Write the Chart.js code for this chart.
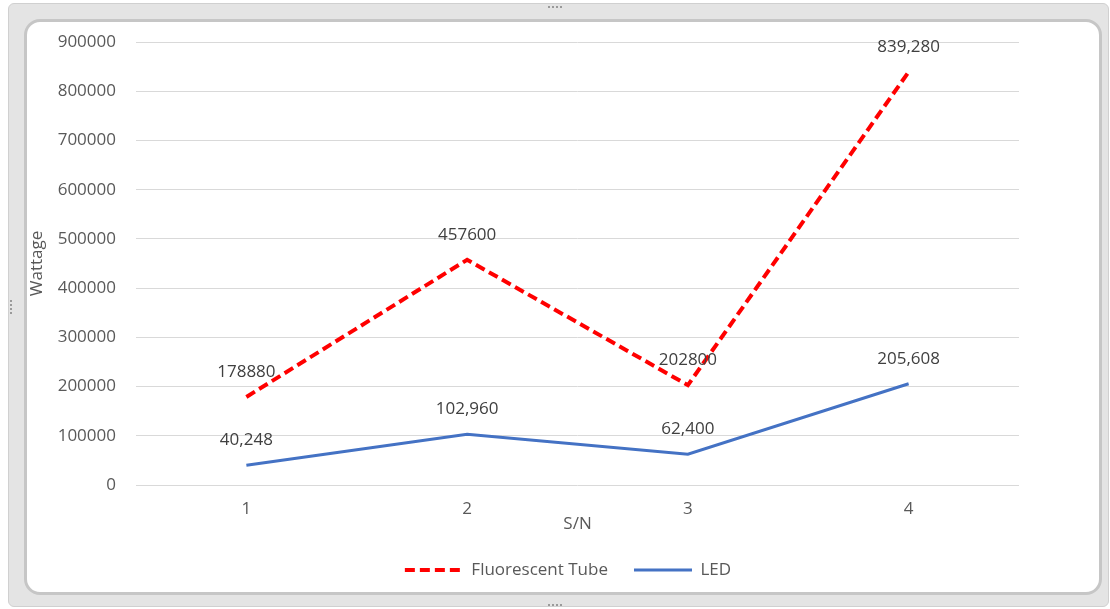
<!DOCTYPE html>
<html>
<head>
<meta charset="utf-8">
<script src="https://cdn.jsdelivr.net/npm/chart.js@4.4.1/dist/chart.umd.min.js"></script>
<style>
  html, body { margin: 0; padding: 0; background: #ffffff; }
  #wrap { position: relative; width: 1110px; height: 609px; overflow: hidden; }
  .frame-outer {
    position: absolute; left: 8px; top: 3px; width: 1101px; height: 604px;
    background: #e4e4e4; border: 1px solid #d0d0d0; border-radius: 6px; box-sizing: border-box;
  }
  .frame-inner {
    position: absolute; left: 24px; top: 19px; width: 1078px; height: 576px;
    background: #ffffff; border: 3px solid #c6c6c6; border-radius: 16px; box-sizing: border-box;
  }
  .grip { position: absolute; width: 14px; height: 2px;
    background: repeating-linear-gradient(90deg, #9a9a9a 0 2px, transparent 2px 4px); }
  canvas { position: absolute; left: 0; top: 0; }
</style>
</head>
<body>
<div id="wrap">
  <div class="frame-outer"></div>
  <div class="frame-inner"></div>
  <div class="grip" style="left:548px; top:6px;"></div>
  <div class="grip" style="left:548px; top:604px;"></div>
  <div class="grip" style="left:10px; top:300px; width:2px; height:14px;
       background: repeating-linear-gradient(180deg, #9a9a9a 0 2px, transparent 2px 4px);"></div>
  <canvas id="chart" width="1110" height="609"></canvas>
</div>
<script>
// Serial numbers along the category axis
const serials = ['1', '2', '3', '4'];

// Power consumption per item (W)
const fluorescentTube = [178880, 457600, 202800, 839280];
const led = [40248, 102960, 62400, 205608];

// Whether each value label is printed with thousands separators
const fluorescentGrouped = [false, false, false, true];
const ledGrouped = [true, true, true, true];

// Value-axis ticks
const yTicks = [0, 100000, 200000, 300000, 400000, 500000, 600000, 700000, 800000, 900000];

const FONT = '"Open Sans", "Liberation Sans", sans-serif';
const FONT_SIZE = 17;
const LEGEND_HEIGHT = 50;
const LEGEND_CENTER = { x: 568, y: 570 };

function formatValue(v, grouped) {
  return grouped ? v.toLocaleString('en-US') : String(v);
}

// Draws each point's value centred above it
const valueLabels = {
  id: 'valueLabels',
  afterDatasetsDraw(chart) {
    const ctx = chart.ctx;
    ctx.save();
    ctx.font = FONT_SIZE + 'px ' + FONT;
    ctx.fillStyle = '#404040';
    ctx.textAlign = 'center';
    ctx.textBaseline = 'middle';
    chart.data.datasets.forEach((ds, i) => {
      const meta = chart.getDatasetMeta(i);
      meta.data.forEach((pt, j) => {
        ctx.fillText(formatValue(ds.data[j], ds.grouped[j]), pt.x, pt.y - 25);
      });
    });
    ctx.restore();
  }
};

// Fixed legend height, and legend centred below the plot
const legendPlacement = {
  id: 'legendPlacement',
  beforeLayout(chart) {
    const lg = chart.legend;
    if (lg && !lg._fixedFit) {
      const fit = lg.fit;
      lg.fit = function () { fit.call(this); this.height = LEGEND_HEIGHT; };
      lg._fixedFit = true;
    }
  },
  afterLayout(chart) {
    const lg = chart.legend;
    const pad = lg.options.labels.padding;
    const w = lg.right - lg.left;
    lg.left = LEGEND_CENTER.x - w / 2;
    lg.right = lg.left + w;
    lg.top = LEGEND_CENTER.y - FONT_SIZE / 2 - pad;
    lg.bottom = lg.top + LEGEND_HEIGHT;
  }
};

new Chart(document.getElementById('chart'), {
  type: 'line',
  data: {
    labels: serials,
    datasets: [
      {
        label: 'Fluorescent Tube',
        data: fluorescentTube,
        grouped: fluorescentGrouped,
        borderColor: '#ff0000',
        backgroundColor: '#ff0000',
        borderWidth: 4,
        borderDash: [10, 5],
        pointRadius: 0,
        tension: 0
      },
      {
        label: 'LED',
        data: led,
        grouped: ledGrouped,
        borderColor: '#4472c4',
        backgroundColor: '#4472c4',
        borderWidth: 3,
        pointRadius: 0,
        tension: 0
      }
    ]
  },
  options: {
    responsive: false,
    animation: false,
    layout: { padding: { left: 20, right: 91, top: 42, bottom: 21 } },
    plugins: {
      tooltip: { enabled: false },
      legend: {
        position: 'bottom',
        labels: {
          usePointStyle: true,
          pointStyle: 'line',
          pointStyleWidth: 58,
          boxHeight: FONT_SIZE,
          padding: 26,
          color: '#595959',
          font: { family: FONT, size: FONT_SIZE },
          generateLabels(chart) {
            const items = Chart.defaults.plugins.legend.labels.generateLabels(chart);
            items.forEach(it => {
              const ds = chart.data.datasets[it.datasetIndex];
              it.lineDash = ds.borderDash || [];
              it.lineWidth = ds.borderWidth;
              it.strokeStyle = ds.borderColor;
            });
            return items;
          }
        }
      }
    },
    scales: {
      x: {
        offset: true,
        grid: { display: false },
        border: { display: false },
        ticks: { color: '#595959', padding: 6, font: { family: FONT, size: FONT_SIZE } },
        title: {
          display: true, text: 'S/N', color: '#595959',
          font: { family: FONT, size: FONT_SIZE }, padding: { top: 0, bottom: 4 }
        },
        afterFit(scale) { scale.height = 53; }
      },
      y: {
        min: 0,
        max: 900000,
        afterBuildTicks(scale) { scale.ticks = yTicks.map(v => ({ value: v })); },
        grid: { color: '#d9d9d9', lineWidth: 1, drawTicks: false },
        border: { display: false },
        ticks: {
          color: '#595959', padding: 20,
          font: { family: FONT, size: FONT_SIZE },
          callback: v => String(v)
        },
        title: {
          display: true, text: 'Wattage', color: '#595959',
          font: { family: FONT, size: FONT_SIZE }, padding: { top: 7, bottom: 0 }
        },
        afterFit(scale) { scale.width = 116; }
      }
    }
  },
  plugins: [valueLabels, legendPlacement]
});
</script>
</body>
</html>
